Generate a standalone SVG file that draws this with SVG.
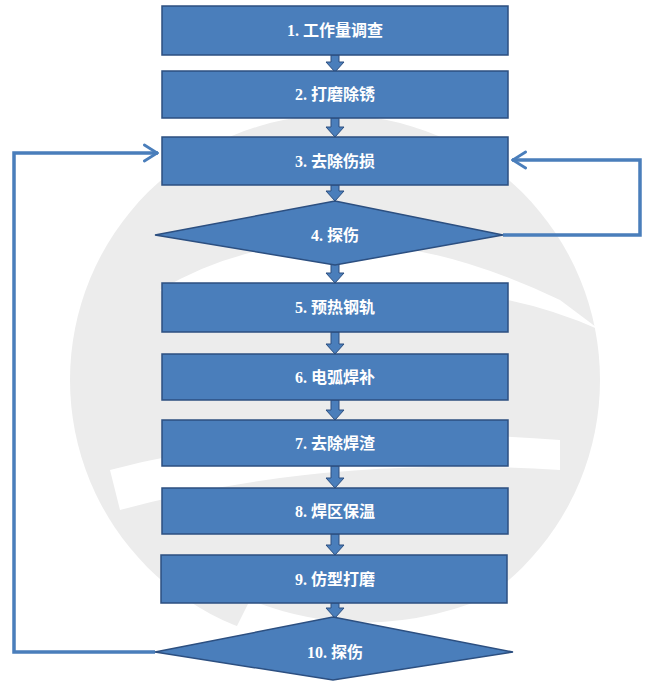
<svg xmlns="http://www.w3.org/2000/svg" width="650" height="687" viewBox="0 0 650 687">
<defs>
<style>
.n{fill:#4a7ebb;stroke:#2c4f80;stroke-width:1.5}
.t{font-family:"Liberation Serif","Noto Sans CJK SC",serif;font-size:16px;font-weight:bold;fill:#fff;text-anchor:middle}
.ba{fill:#4a7ebb;stroke:#2c4f80;stroke-width:1}
.loop{fill:none;stroke:#4a7ebb;stroke-width:3.5}
</style>
<marker id="ch" viewBox="0 0 20 24" refX="19" refY="12" markerWidth="16" markerHeight="20" orient="auto" markerUnits="userSpaceOnUse">
<path d="M2,2 L18,12 L2,22" fill="none" stroke="#4a7ebb" stroke-width="3.5" stroke-linecap="round"/>
</marker>
</defs>
<rect width="650" height="687" fill="#fff"/>
<g id="watermark">
<circle cx="335" cy="380" r="265" fill="#ececec"/>
<path d="M160,290 Q330,190 560,300 L600,330 Q420,250 200,330 Z" fill="#fff"/>
<path d="M110,470 Q300,420 560,440 L560,470 Q320,455 120,510 Z" fill="#fff"/>
<path d="M250,600 Q400,660 560,560 L600,600 Q420,700 230,640 Z" fill="#fff"/>
</g>
<g id="connectors">
<path class="loop" d="M155,652 H14 V153 H158" marker-end="url(#ch)"/>
<path class="loop" d="M503,235 H640 V160 H512" marker-end="url(#ch)"/>
<g class="ba">
<path d="M331,55 h8 v7 h5 l-9,10 l-9,-10 h5 z"/>
<path d="M331,118 h8 v9 h5 l-9,10 l-9,-10 h5 z"/>
<path d="M331,185 h8 v6 h5 l-9,10 l-9,-10 h5 z"/>
<path d="M331,264 h8 v9 h5 l-9,10 l-9,-10 h5 z"/>
<path d="M331,332 h8 v12 h5 l-9,10 l-9,-10 h5 z"/>
<path d="M331,400 h8 v10 h5 l-9,10 l-9,-10 h5 z"/>
<path d="M331,466 h8 v12 h5 l-9,10 l-9,-10 h5 z"/>
<path d="M331,534 h8 v11 h5 l-9,10 l-9,-10 h5 z"/>
<path d="M331,603 h8 v5 h5 l-9,10 l-9,-10 h5 z"/>
</g>
</g>
<g id="n1"><rect class="n" x="162" y="6" width="346" height="49"/><text class="t" x="335" y="36">1. 工作量调查</text></g>
<g id="n2"><rect class="n" x="162" y="71" width="346" height="47"/><text class="t" x="335" y="100">2. 打磨除锈</text></g>
<g id="n3"><rect class="n" x="162" y="137" width="346" height="48"/><text class="t" x="335" y="167">3. 去除伤损</text></g>
<g id="n4"><polygon class="n" points="155,235 335,201 503,235 335,265"/><text class="t" x="335" y="241">4. 探伤</text></g>
<g id="n5"><rect class="n" x="162" y="283" width="346" height="49"/><text class="t" x="335" y="313">5. 预热钢轨</text></g>
<g id="n6"><rect class="n" x="162" y="354" width="346" height="46"/><text class="t" x="335" y="383">6. 电弧焊补</text></g>
<g id="n7"><rect class="n" x="162" y="420" width="346" height="46"/><text class="t" x="335" y="449">7. 去除焊渣</text></g>
<g id="n8"><rect class="n" x="162" y="488" width="346" height="46"/><text class="t" x="335" y="517">8. 焊区保温</text></g>
<g id="n9"><rect class="n" x="161" y="555" width="346" height="48"/><text class="t" x="335" y="585">9. 仿型打磨</text></g>
<g id="n10"><polygon class="n" points="155,652 333,617 513,652 333,680"/><text class="t" x="335" y="658">10. 探伤</text></g>
</svg>
